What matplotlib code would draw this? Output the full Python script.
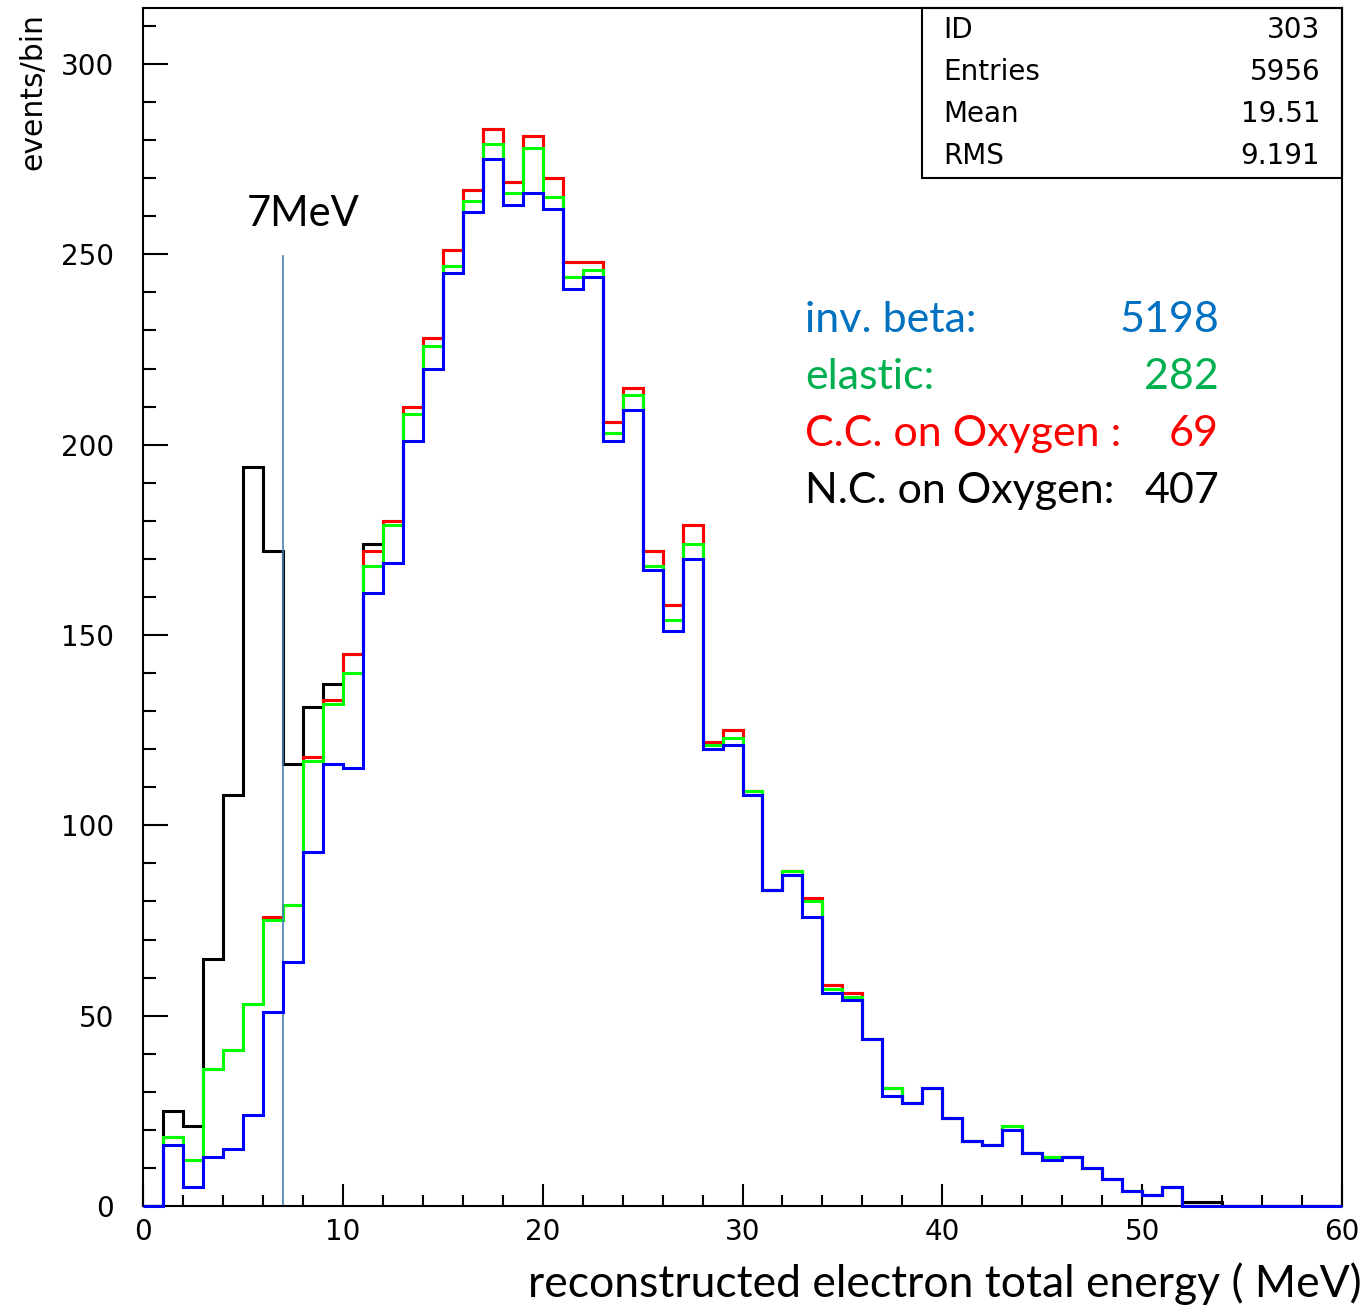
import numpy as np
import matplotlib
matplotlib.use("Agg")
import matplotlib.pyplot as plt
from matplotlib.patches import Rectangle

# 1 MeV bins from 0 to 60, stacked totals as drawn (each curve includes the ones below it)
edges = np.arange(0, 61, 1)

inv_beta = [0, 16, 5, 13, 15, 24, 51, 64, 93, 116, 115, 161, 169, 201, 220, 245, 261, 275, 263, 266,
            262, 241, 244, 201, 209, 167, 151, 170, 120, 121, 108, 83, 87, 76, 56, 54, 44, 29, 27, 31,
            23, 17, 16, 20, 14, 12, 13, 10, 7, 4, 3, 5, 0, 0, 0, 0, 0, 0, 0, 0]
plus_elastic = [0, 18, 12, 36, 41, 53, 75, 79, 117, 132, 140, 168, 179, 208, 226, 247, 264, 279, 266, 278,
                265, 244, 246, 203, 213, 168, 154, 174, 121, 123, 109, 83, 88, 80, 57, 55, 44, 31, 27, 31,
                23, 17, 16, 21, 14, 13, 13, 10, 7, 4, 3, 5, 0, 0, 0, 0, 0, 0, 0, 0]
plus_cc_oxygen = [0, 18, 12, 36, 41, 53, 76, 79, 118, 133, 145, 172, 180, 210, 228, 251, 267, 283, 269, 281,
                  270, 248, 248, 206, 215, 172, 158, 179, 122, 125, 109, 83, 88, 81, 58, 56, 44, 31, 27, 31,
                  23, 17, 16, 21, 14, 13, 13, 10, 7, 4, 3, 5, 0, 0, 0, 0, 0, 0, 0, 0]
all_events = [0, 25, 21, 65, 108, 194, 172, 116, 131, 137, 145, 174, 180, 210, 228, 251, 267, 283, 269, 281,
              270, 248, 248, 206, 215, 172, 158, 179, 122, 125, 109, 83, 88, 81, 58, 56, 44, 31, 27, 31,
              23, 17, 16, 21, 14, 13, 13, 10, 7, 4, 3, 5, 1, 1, 0, 0, 0, 0, 0, 0]

stats_names = ["ID", "Entries", "Mean", "RMS"]
stats_values = ["303", "5956", "19.51", "9.191"]

channel_names = ["inv. beta:", "elastic:", "C.C. on Oxygen :", "N.C. on Oxygen:"]
channel_counts = ["5198", "282", "69", "407"]
channel_colors = ["#0070C0", "#00B050", "#FF0000", "#000000"]

threshold = 7

W, H = 1370, 1309
fig = plt.figure(figsize=(W / 100, H / 100), dpi=100)
ax = fig.add_axes([143 / W, 1 - 1206 / H, 1199 / W, 1198 / H])

lw = 2.2
ax.stairs(all_events, edges, color="black", lw=lw, baseline=None)
ax.stairs(plus_cc_oxygen, edges, color="#ff0000", lw=lw, baseline=None)
ax.stairs(plus_elastic, edges, color="#00ff00", lw=lw, baseline=None)
# blue drawn last and unclipped so its empty bins show along the x axis
ax.stairs(inv_beta, edges, color="#0000ff", lw=lw, baseline=None, clip_on=False, zorder=3)

ax.set_xlim(0, 60)
ax.set_ylim(0, 314.7)

for s in ["top", "bottom", "left", "right"]:
    ax.spines[s].set_linewidth(1.5)

ax.set_xticks(np.arange(0, 61, 10))
ax.set_xticks(np.arange(0, 61, 2), minor=True)
ax.set_yticks(np.arange(0, 301, 50))
ax.set_yticks(np.arange(0, 311, 10), minor=True)
ax.tick_params(axis="y", which="major", direction="in", length=18, width=1.5, pad=21, labelsize=20)
ax.tick_params(axis="y", which="minor", direction="in", length=9, width=1.5)
ax.tick_params(axis="x", which="major", direction="in", length=16, width=1.5, pad=9, labelsize=20)
ax.tick_params(axis="x", which="minor", direction="in", length=8, width=1.5)
for lab in ax.get_xticklabels() + ax.get_yticklabels():
    lab.set_family("DejaVu Sans")

fig.text(33 / W, 1 - 92 / H, "events/bin", rotation=90, ha="center", va="center",
         fontsize=21.5, family="DejaVu Sans")

# 7 MeV threshold marker
ax.plot([threshold, threshold], [0, 249.5], color="#4a7ebb", lw=1.2)
ax.text(8.0, 257.5, "7MeV", ha="center", va="baseline", fontsize=30, family="Lato")

# statistics box in the upper right corner
box_x0 = (922 - 143) / 1199
box_y0 = (1206 - 178) / 1198
ax.add_patch(Rectangle((box_x0, box_y0), 1 - box_x0, 1 - box_y0, transform=ax.transAxes,
                       fill=False, ec="black", lw=1.5, clip_on=False))
for i, (name, val) in enumerate(zip(stats_names, stats_values)):
    yy = 1 - (30 + 42 * i) / H
    fig.text(943 / W, yy, name, ha="left", va="center", fontsize=20, family="DejaVu Sans")
    fig.text(1320 / W, yy, val, ha="right", va="center", fontsize=20, family="DejaVu Sans")

# channel counts
for i, (name, cnt, col) in enumerate(zip(channel_names, channel_counts, channel_colors)):
    yy = 1 - (332 + 57 * i) / H
    fig.text(805 / W, yy, name, ha="left", va="baseline", fontsize=31, family="Lato", color=col)
    fig.text(1219 / W, yy, cnt, ha="right", va="baseline", fontsize=31, family="Lato", color=col)

fig.text(1362 / W, 1 - 1297 / H, "reconstructed electron total energy ( MeV)", ha="right",
         va="baseline", fontsize=32, family="Lato")

fig.savefig("out.png", dpi=100)
